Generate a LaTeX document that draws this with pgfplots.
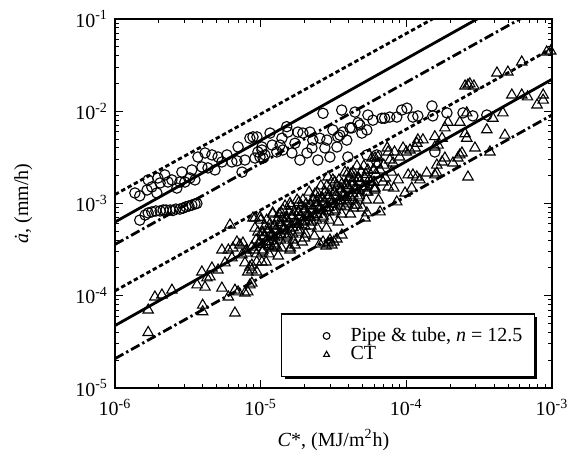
\documentclass[border=0pt]{standalone}
\usepackage{fontspec}
\setmainfont{Liberation Serif}
\usepackage{pgfplots}
\usepackage{pgfplotstable}
\pgfplotsset{compat=1.18}
\usetikzlibrary{shadows}

\pgfplotstableread{
x y
1.37e-6 1.30e-3
1.48e-6 1.21e-3
1.66e-6 1.40e-3
1.69e-6 1.80e-3
1.79e-6 1.51e-3
1.94e-6 1.30e-3
1.97e-6 1.89e-3
2.04e-6 1.67e-3
2.20e-6 2.04e-3
2.31e-6 1.71e-3
2.46e-6 1.80e-3
2.66e-6 1.47e-3
2.79e-6 1.71e-3
2.88e-6 2.19e-3
3.02e-6 1.71e-3
3.27e-6 1.89e-3
3.37e-6 2.31e-3
3.54e-6 1.80e-3
3.71e-6 3.19e-3
3.95e-6 2.49e-3
4.15e-6 3.53e-3
4.35e-6 2.43e-3
4.63e-6 3.36e-3
4.86e-6 2.31e-3
5.10e-6 3.19e-3
5.42e-6 2.82e-3
5.87e-6 3.36e-3
6.35e-6 2.82e-3
6.87e-6 2.90e-3
7.00e-6 4.10e-3
7.45e-6 2.19e-3
7.80e-6 2.96e-3
8.44e-6 5.10e-3
8.86e-6 5.27e-3
9.14e-6 3.11e-3
9.58e-6 3.62e-3
1.02e-5 4.10e-3
1.04e-5 3.11e-3
9.43e-6 5.27e-3
1.02e-5 3.80e-3
9.90e-6 3.19e-3
1.07e-5 3.36e-3
1.16e-5 5.80e-3
1.20e-5 4.30e-3
1.29e-5 3.62e-3
1.36e-5 4.30e-3
1.40e-5 5.10e-3
1.42e-5 3.80e-3
1.54e-5 5.95e-3
1.64e-5 3.53e-3
1.72e-5 4.50e-3
1.80e-5 5.95e-3
1.86e-5 2.96e-3
1.95e-5 5.80e-3
2.08e-5 3.53e-3
2.18e-5 5.95e-3
2.25e-5 4.00e-3
2.28e-5 4.87e-3
2.47e-5 2.96e-3
2.55e-5 5.10e-3
2.68e-5 9.50e-3
2.76e-5 4.00e-3
2.85e-5 4.87e-3
2.99e-5 3.19e-3
3.13e-5 6.27e-3
3.34e-5 4.10e-3
3.50e-5 5.50e-3
3.60e-5 1.03e-2
3.67e-5 5.95e-3
3.90e-5 4.87e-3
4.23e-5 6.60e-3
4.44e-5 9.80e-3
4.66e-5 7.50e-3
4.95e-5 5.80e-3
5.36e-5 6.27e-3
5.45e-5 9.10e-3
5.90e-5 8.00e-3
6.28e-5 2.82e-3
6.80e-5 8.40e-3
7.10e-5 8.40e-3
7.70e-5 8.65e-3
8.60e-5 8.65e-3
9.30e-5 1.03e-2
3.97e-5 3.19e-3
5.36e-5 3.36e-3
6.28e-5 3.36e-3
1.01e-4 1.08e-2
1.11e-4 8.65e-3
1.20e-4 8.90e-3
1.50e-4 1.14e-2
1.52e-4 8.90e-3
1.90e-4 9.60e-3
2.45e-4 9.60e-3
2.86e-4 8.90e-3
3.57e-4 9.10e-3
1.57e-4 3.62e-3
1.51e-5 6.80e-3
4.10e-5 6.60e-3
4.80e-5 7.10e-3
3.39e-5 5.27e-3
1.48e-6 6.6e-4
1.61e-6 7.5e-4
1.69e-6 7.9e-4
1.79e-6 8.1e-4
1.91e-6 8.3e-4
2.04e-6 8.3e-4
2.14e-6 8.5e-4
2.24e-6 8.5e-4
2.39e-6 8.5e-4
2.50e-6 8.4e-4
2.62e-6 8.7e-4
2.79e-6 8.7e-4
2.93e-6 8.9e-4
3.07e-6 9.2e-4
3.22e-6 9.4e-4
3.37e-6 9.6e-4
3.54e-6 9.9e-4
3.65e-6 1.0e-3
}\pipedata

\pgfplotstableread{
x y
1.69e-6 7.0e-5
1.69e-6 4.0e-5
1.88e-6 9.7e-5
2.10e-6 1.02e-4
2.46e-6 1.15e-4
3.66e-6 1.31e-4
3.95e-6 1.81e-4
4.15e-6 1.24e-4
4.28e-6 1.56e-4
4.49e-6 1.60e-4
4.63e-6 2.00e-4
4.00e-6 7.9e-5
4.00e-6 6.7e-5
5.42e-6 1.21e-4
5.10e-6 1.90e-4
5.42e-6 3.13e-4
6.00e-6 3.13e-4
6.16e-6 5.85e-4
6.87e-6 3.83e-4
7.20e-6 3.55e-4
6.00e-6 9.7e-5
6.66e-6 6.5e-5
6.66e-6 1.15e-4
7.00e-6 1.10e-4
7.80e-6 1.07e-4
8.16e-6 1.10e-4
8.70e-6 1.37e-4
5.69e-6 2.27e-4
6.35e-6 2.57e-4
7.80e-6 2.27e-4
8.44e-6 2.05e-4
7.45e-6 2.77e-4
8.00e-6 3.13e-4
8.70e-6 3.37e-4
8.86e-6 6.97e-4
7.56e-6 3.73e-4
8.00e-6 2.90e-4
6.45e-6 3.29e-4
8.16e-6 1.81e-4
8.70e-6 2.15e-4
9.14e-6 5.4e-4
9.30e-6 4.02e-4
8.98e-6 3.13e-4
9.40e-6 2.32e-4
9.58e-6 4.9e-4
9.80e-6 3.83e-4
9.40e-6 2.84e-4
1.00e-5 6.6e-4
1.02e-5 4.9e-4
0.98e-5 3.64e-4
1.04e-5 3.13e-4
1.05e-5 4.44e-4
1.07e-5 5.7e-4
1.03e-5 2.98e-4
1.09e-5 2.32e-4
1.10e-5 6.6e-4
1.12e-5 4.9e-4
1.08e-5 3.83e-4
1.14e-5 2.84e-4
1.16e-5 6.0e-4
1.18e-5 4.67e-4
1.14e-5 3.46e-4
1.21e-5 7.7e-4
1.23e-5 5.7e-4
1.19e-5 4.44e-4
1.25e-5 3.64e-4
1.27e-5 5.16e-4
1.30e-5 6.6e-4
1.25e-5 3.46e-4
1.32e-5 2.7e-4
1.34e-5 7.7e-4
1.37e-5 5.7e-4
1.31e-5 4.44e-4
1.39e-5 3.29e-4
1.40e-5 6.97e-4
1.43e-5 5.4e-4
1.37e-5 4.02e-4
1.47e-5 9.4e-4
1.50e-5 6.97e-4
1.44e-5 5.16e-4
1.53e-5 4.44e-4
1.54e-5 6.3e-4
1.57e-5 8.1e-4
1.51e-5 4.23e-4
1.60e-5 3.29e-4
1.61e-5 9.4e-4
1.64e-5 6.97e-4
1.58e-5 5.4e-4
1.67e-5 4.02e-4
1.69e-5 8.1e-4
1.72e-5 6.3e-4
1.66e-5 4.67e-4
1.78e-5 1.09e-3
1.82e-5 8.1e-4
1.74e-5 6.0e-4
1.85e-5 5.16e-4
1.86e-5 7.3e-4
1.90e-5 9.4e-4
1.82e-5 4.9e-4
1.93e-5 3.83e-4
1.95e-5 1.09e-3
1.99e-5 8.1e-4
1.91e-5 6.3e-4
2.03e-5 4.67e-4
2.05e-5 9.9e-4
2.09e-5 7.7e-4
2.01e-5 5.7e-4
2.15e-5 1.33e-3
2.19e-5 9.9e-4
2.11e-5 7.3e-4
2.24e-5 6.3e-4
2.25e-5 8.5e-4
2.30e-5 1.09e-3
2.21e-5 5.7e-4
2.34e-5 4.44e-4
2.36e-5 1.27e-3
2.41e-5 9.4e-4
2.31e-5 7.3e-4
2.45e-5 5.4e-4
2.47e-5 1.15e-3
2.52e-5 8.93e-4
2.42e-5 6.6e-4
2.59e-5 1.55e-3
2.64e-5 1.15e-3
2.54e-5 8.5e-4
2.69e-5 7.3e-4
2.72e-5 1.04e-3
2.77e-5 1.33e-3
2.67e-5 6.97e-4
2.83e-5 5.4e-4
2.85e-5 1.55e-3
2.91e-5 1.15e-3
2.79e-5 8.93e-4
2.96e-5 6.6e-4
2.99e-5 1.40e-3
3.05e-5 1.09e-3
2.93e-5 8.1e-4
3.13e-5 1.80e-3
3.19e-5 1.33e-3
3.07e-5 9.9e-4
3.26e-5 8.5e-4
3.28e-5 1.21e-3
3.35e-5 1.55e-3
3.21e-5 8.1e-4
3.41e-5 6.3e-4
3.45e-5 1.80e-3
3.52e-5 1.33e-3
3.38e-5 1.04e-3
3.59e-5 7.7e-4
3.61e-5 1.63e-3
3.68e-5 1.27e-3
3.54e-5 9.4e-4
3.79e-5 2.19e-3
3.87e-5 1.63e-3
3.71e-5 1.21e-3
3.94e-5 1.04e-3
3.97e-5 1.47e-3
4.05e-5 1.89e-3
3.89e-5 9.9e-4
4.13e-5 7.7e-4
4.17e-5 2.09e-3
4.25e-5 1.55e-3
4.09e-5 1.21e-3
4.34e-5 8.93e-4
4.37e-5 1.89e-3
4.46e-5 1.47e-3
4.28e-5 1.09e-3
4.58e-5 2.55e-3
4.67e-5 1.89e-3
4.49e-5 1.40e-3
4.76e-5 1.21e-3
4.80e-5 1.71e-3
4.90e-5 2.19e-3
4.70e-5 1.15e-3
4.99e-5 8.93e-4
5.11e-5 2.55e-3
5.21e-5 1.89e-3
5.01e-5 1.47e-3
5.31e-5 1.09e-3
5.44e-5 2.31e-3
5.55e-5 1.80e-3
5.33e-5 1.33e-3
5.81e-5 3.11e-3
5.93e-5 2.31e-3
5.69e-5 1.71e-3
6.04e-5 1.47e-3
6.19e-5 2.09e-3
6.31e-5 2.68e-3
6.07e-5 1.40e-3
6.44e-5 1.09e-3
1.04e-5 4.82e-4
1.04e-5 3.58e-4
1.14e-5 5.26e-4
1.14e-5 3.89e-4
1.25e-5 5.72e-4
1.25e-5 4.24e-4
1.38e-5 6.22e-4
1.38e-5 4.61e-4
1.38e-5 7.98e-4
1.52e-5 6.76e-4
1.52e-5 5.01e-4
1.67e-5 7.36e-4
1.67e-5 5.45e-4
1.83e-5 8.00e-4
1.83e-5 5.93e-4
1.83e-5 1.03e-3
2.01e-5 8.71e-4
2.01e-5 6.46e-4
2.21e-5 9.46e-4
2.21e-5 7.02e-4
2.44e-5 1.03e-3
2.44e-5 7.64e-4
2.44e-5 1.32e-3
2.68e-5 1.12e-3
2.68e-5 8.32e-4
2.94e-5 1.22e-3
2.94e-5 9.06e-4
3.23e-5 1.33e-3
3.23e-5 9.85e-4
3.23e-5 1.71e-3
3.56e-5 1.44e-3
3.56e-5 1.07e-3
3.91e-5 1.57e-3
3.91e-5 1.16e-3
4.30e-5 1.71e-3
4.30e-5 1.27e-3
4.30e-5 2.19e-3
4.73e-5 1.86e-3
4.73e-5 1.38e-3
5.28e-5 2.06e-3
5.28e-5 1.52e-3
6.00e-5 2.30e-3
6.00e-5 1.70e-3
1.21e-5 7.9e-4
1.42e-5 8.5e-4
1.59e-5 1.0e-3
3.97e-5 2.14e-3
6.38e-5 3.19e-3
7.5e-5 3.62e-3
7.0e-5 2.61e-3
7.9e-5 2.19e-3
8.8e-5 1.80e-3
6.6e-5 2.31e-3
7.2e-5 1.89e-3
7.7e-5 2.96e-3
8.2e-5 1.47e-3
2.55e-5 3.64e-4
2.68e-5 3.83e-4
2.81e-5 3.46e-4
2.90e-5 3.73e-4
2.99e-5 4.02e-4
3.08e-5 3.55e-4
3.18e-5 3.83e-4
3.34e-5 4.12e-4
3.61e-5 4.55e-4
2.9e-5 1.94e-3
9.14e-6 6.97e-4
9.9e-6 7.1e-4
3.79e-5 9.2e-4
4.44e-5 9.6e-4
2.0e-5 4.23e-4
1.72e-5 3.55e-4
1.59e-5 3.13e-4
1.29e-5 3.37e-4
1.2e-5 3.29e-4
8.7e-6 1.9e-4
1.02e-5 2.32e-4
9.4e-6 1.81e-4
8.44e-6 1.31e-4
2.53e-4 1.88e-2
2.65e-4 1.93e-2
2.73e-4 1.98e-2
2.91e-4 1.88e-2
4.19e-4 2.60e-2
4.98e-4 2.66e-2
6.20e-4 3.42e-2
9.20e-4 4.39e-2
9.80e-4 4.50e-2
5.30e-4 1.50e-2
6.20e-4 1.50e-2
6.80e-4 1.43e-2
7.90e-4 1.17e-2
8.70e-4 1.50e-2
8.70e-4 1.32e-2
1.93e-4 7.6e-3
1.84e-4 6.6e-3
2.33e-4 7.6e-3
2.60e-4 9.6e-3
4.60e-4 9.6e-3
3.93e-4 8.4e-3
3.57e-4 6.3e-3
4.75e-4 5.5e-3
1.20e-4 4.9e-3
1.30e-4 4.9e-3
1.57e-4 5.3e-3
1.76e-4 5.1e-3
1.65e-4 4.3e-3
1.84e-4 3.11e-3
1.76e-4 2.82e-3
2.33e-4 3.36e-3
2.26e-4 3.11e-3
2.41e-4 3.53e-3
2.09e-4 2.75e-3
2.96e-4 4.0e-3
3.75e-4 3.62e-3
2.60e-4 5.1e-3
2.65e-4 1.94e-3
1.62e-4 2.14e-3
1.38e-4 2.14e-3
1.03e-4 2.04e-3
1.18e-4 1.94e-3
8.1e-5 2.75e-3
9.0e-5 3.19e-3
1.0e-4 3.62e-3
1.06e-4 3.8e-3
1.15e-4 4.0e-3
9.5e-5 4.0e-3
1.11e-4 2.04e-3
1.24e-4 1.80e-3
1.57e-4 2.04e-3
1.62e-4 2.61e-3
9.8e-5 1.30e-3
1.09e-4 1.47e-3
8.6e-5 1.04e-3
6.6e-5 8.1e-4
5.36e-5 7.9e-4
5.2e-5 6.97e-4
4.58e-5 9.6e-4
5.44e-5 1.33e-3
6.1e-5 1.47e-3
7.5e-5 1.51e-3
6.9e-5 1.71e-3
2.53e-4 5.7e-3
1.18e-4 4.5e-3
1.57e-4 4.1e-3
7.4e-5 4.0e-3
8.3e-5 3.62e-3
6.1e-5 3.11e-3
}\ctdata

\begin{document}
\begin{tikzpicture}
\begin{axis}[
  scale only axis,
  width=218.5pt, height=184.5pt,
  xmode=log, ymode=log,
  xmin=1e-6, xmax=1e-3, ymin=1e-5, ymax=1e-1,
  xtick={1e-6,1e-5,1e-4,1e-3},
  xticklabels={{10\textsuperscript{-6}},{10\textsuperscript{-5}},{10\textsuperscript{-4}},{10\textsuperscript{-3}}},
  ytick={1e-5,1e-4,1e-3,1e-2,1e-1},
  yticklabels={{10\textsuperscript{-5}},{10\textsuperscript{-4}},{10\textsuperscript{-3}},{10\textsuperscript{-2}},{10\textsuperscript{-1}}},
  tick align=inside,
  tick pos=both,
  major tick length=4pt, minor tick length=2pt,
  every tick/.style={black, line width=0.5pt},
  axis line style={line width=0.6pt},
  tick label style={font=\fontsize{10}{12}\selectfont},
  xticklabel style={yshift=-2pt},
  xlabel={\textit{C}*, (MJ/m\textsuperscript{2}h)},
  ylabel={\textit{\.{a}}, (mm/h)},
  label style={font=\fontsize{11}{13}\selectfont},
  every axis x label/.style={at={(axis description cs:0.5,-0.141)}, anchor=center},
  every axis y label/.style={at={(axis description cs:-0.21,0.5)}, anchor=center, rotate=90},
  legend style={at={(axis description cs:0.961,0.03)}, anchor=south east,
    draw=black, line width=0.6pt, fill=white,
    drop shadow={shadow xshift=1.5pt, shadow yshift=-1.5pt, fill=black, opacity=1},
    font=\fontsize{10}{11}\selectfont, row sep=-2.9pt, inner xsep=4pt, inner ysep=4.75pt},
  legend cell align=left,
  scatterlegend/.style={legend image code/.code={\pgfpathmoveto{\pgfpoint{0cm}{0cm}}\pgfpathlineto{\pgfpoint{1.0cm}{0cm}}\pgfusepath{discard}\draw[##1] plot coordinates {(0.65cm,0cm)};}},
  legend image post style={mark size=1.7pt},
]
% Pipe & tube lines
\addplot[forget plot, black, line width=1.4pt, dash pattern=on 2.2pt off 1.4pt] coordinates {(1e-6,1.25e-3) (1e-3,0.52)};
\addplot[forget plot, black, line width=1.4pt] coordinates {(1e-6,6.3e-4) (1e-3,0.285)};
\addplot[forget plot, black, line width=1.4pt, dash pattern=on 4.8pt off 1.6pt on 1.2pt off 1.6pt] coordinates {(1e-6,3.6e-4) (1e-3,0.156)};
% CT lines
\addplot[forget plot, black, line width=1.4pt, dash pattern=on 2.2pt off 1.4pt] coordinates {(1e-6,1.13e-4) (1e-3,4.8e-2)};
\addplot[forget plot, black, line width=1.4pt] coordinates {(1e-6,4.75e-5) (1e-3,2.22e-2)};
\addplot[forget plot, black, line width=1.4pt, dash pattern=on 4.8pt off 1.6pt on 1.2pt off 1.6pt] coordinates {(1e-6,2.08e-5) (1e-3,9.1e-3)};
% data
\addplot[only marks, scatterlegend, mark=o, mark size=2.6pt, mark options={black, line width=0.55pt}] table[x=x,y=y] {\pipedata};
\addlegendentry{Pipe \& tube, \textit{n} = 12.5}
\addplot[only marks, scatterlegend, mark=triangle, mark size=3.0pt, mark options={black, line width=0.55pt}] table[x=x,y=y] {\ctdata};
\addlegendentry{CT}
\end{axis}
\pgfresetboundingbox
\path[use as bounding box] ([shift={(-57.5pt,-35.5pt)}]current axis.south west) rectangle ([shift={(8pt,9.5pt)}]current axis.north east);
\end{tikzpicture}
\end{document}
